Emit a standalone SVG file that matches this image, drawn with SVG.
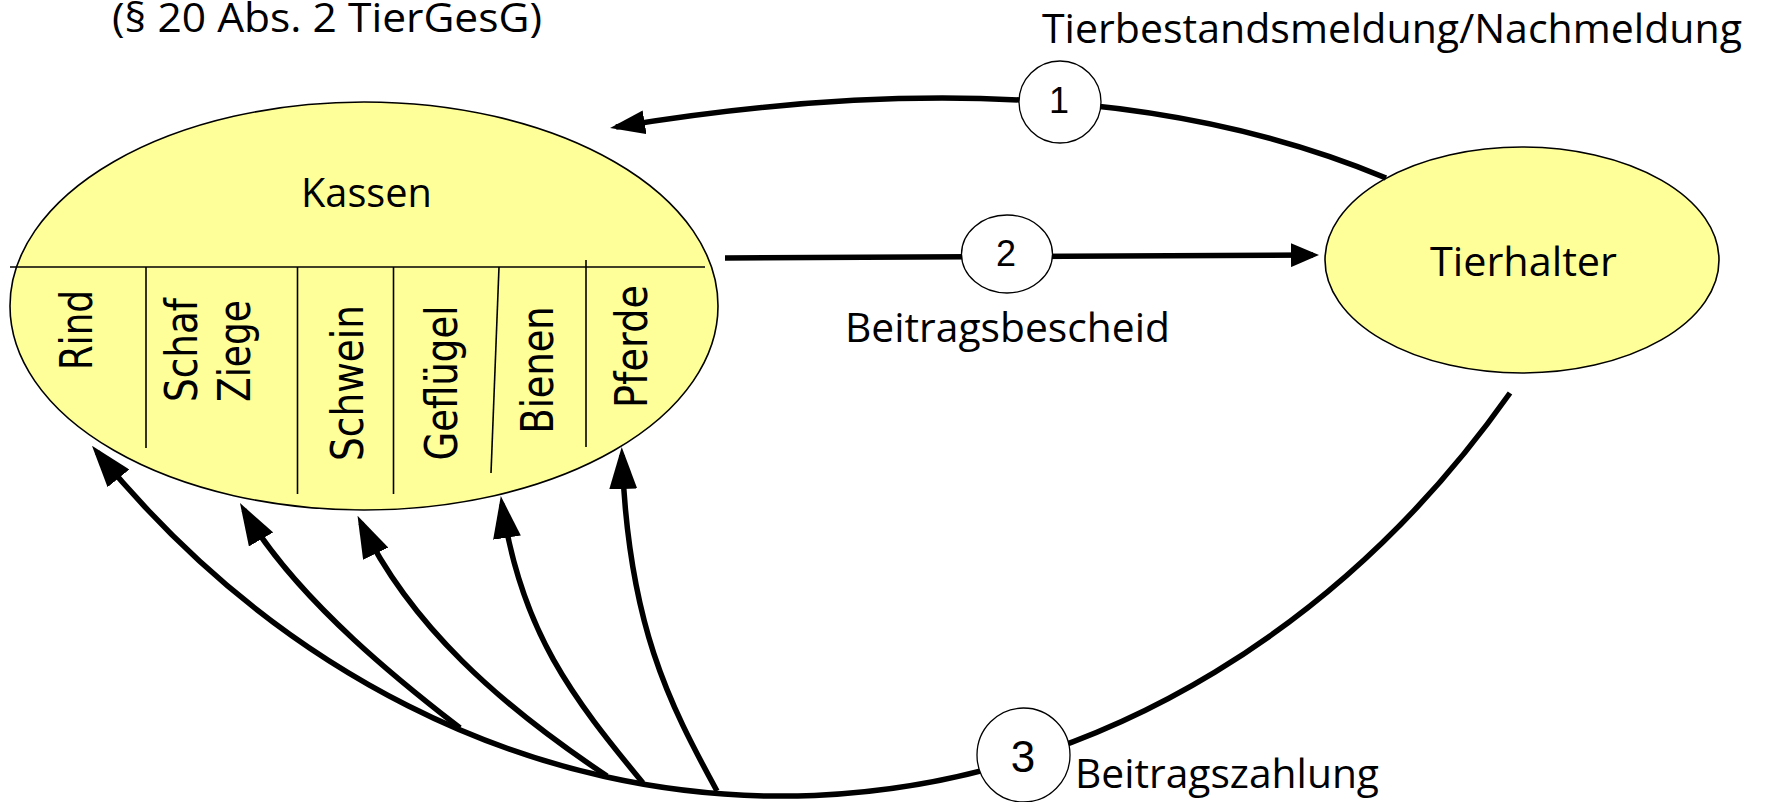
<svg xmlns="http://www.w3.org/2000/svg" width="1773" height="802" viewBox="0 0 1773 802">
<defs>
<style>
.node{fill:#ffff99;stroke:#000;stroke-width:1.6}
.num{fill:#fff;stroke:#000;stroke-width:1.3}
.div{stroke:#000;stroke-width:1.6;fill:none}
.conn{fill:none;stroke:#000;stroke-width:5.5}
.lbl{font-family:"Open Sans","Liberation Sans",sans-serif;font-size:40px;fill:#000}
.vl{font-family:"DejaVu Sans",Verdana,sans-serif;font-size:44px;fill:#000;text-anchor:middle}
.n{font-family:"Liberation Sans",Arial,sans-serif;fill:#000;text-anchor:middle}
</style>
<marker id="ah" markerUnits="userSpaceOnUse" markerWidth="42" markerHeight="28" viewBox="0 0 42 28" refX="34" refY="14" orient="auto"><path d="M0,0 L42,14 L0,28 Z" fill="#000"/></marker>
<marker id="arr1" markerUnits="userSpaceOnUse" markerWidth="35" markerHeight="24" viewBox="0 0 35 24" refX="29" refY="12" orient="auto"><path d="M0,0 L35,12 L0,24 Z" fill="#000"/></marker>
<marker id="arr2" markerUnits="userSpaceOnUse" markerWidth="28" markerHeight="24" viewBox="0 0 28 24" refX="22" refY="12" orient="auto"><path d="M0,0 L28,12 L0,24 Z" fill="#000"/></marker>
</defs>
<rect width="1773" height="802" fill="#fff"/>

<text class="lbl" x="112" y="32" font-size="36" textLength="430" lengthAdjust="spacingAndGlyphs">(§ 20 Abs. 2 TierGesG)</text>
<text class="lbl" x="1042" y="43" textLength="700" lengthAdjust="spacingAndGlyphs">Tierbestandsmeldung/Nachmeldung</text>

<g id="kassen">
<ellipse class="node" cx="364" cy="306" rx="354" ry="204"/>
<text class="lbl" x="301" y="207" textLength="131" lengthAdjust="spacingAndGlyphs">Kassen</text>
<line class="div" x1="10" y1="267" x2="705" y2="267"/>
<line class="div" x1="146" y1="267" x2="146" y2="448"/>
<line class="div" x1="297.5" y1="267" x2="297.5" y2="494"/>
<line class="div" x1="393.5" y1="267" x2="393.5" y2="494"/>
<line class="div" x1="499" y1="267" x2="491" y2="473"/>
<line class="div" x1="586" y1="260" x2="586" y2="447"/>
<text class="vl" transform="translate(92,330) rotate(-90)" textLength="80" lengthAdjust="spacingAndGlyphs">Rind</text>
<text class="vl" transform="translate(197,350) rotate(-90)" textLength="104" lengthAdjust="spacingAndGlyphs">Schaf</text>
<text class="vl" transform="translate(250,351) rotate(-90)" textLength="102" lengthAdjust="spacingAndGlyphs">Ziege</text>
<text class="vl" transform="translate(363,383) rotate(-90)" textLength="156" lengthAdjust="spacingAndGlyphs">Schwein</text>
<text class="vl" transform="translate(457,383) rotate(-90)" textLength="155" lengthAdjust="spacingAndGlyphs">Geflügel</text>
<text class="vl" transform="translate(553,370) rotate(-90)" textLength="127" lengthAdjust="spacingAndGlyphs">Bienen</text>
<text class="vl" transform="translate(647,346.5) rotate(-90)" textLength="123" lengthAdjust="spacingAndGlyphs">Pferde</text>
</g>

<g id="tierhalter">
<ellipse class="node" cx="1522" cy="260" rx="197" ry="113"/>
<text class="lbl" x="1430" y="276" textLength="187" lengthAdjust="spacingAndGlyphs">Tierhalter</text>
</g>

<g id="connectors">
<path class="conn" d="M1386,178 Q1080,50 616,127" marker-end="url(#arr1)"/>
<path class="conn" d="M725,258 L1313,255" marker-end="url(#arr2)"/>
<path class="conn" d="M1510,393 A950,1124 0 0 1 97,452" marker-end="url(#ah)"/>
<path class="conn" d="M460,728 C420,697 299,605 244,510" marker-end="url(#ah)"/>
<path class="conn" d="M607,776 C500,705 410,625 361,523" marker-end="url(#ah)"/>
<path class="conn" d="M643,783 C573,698 521,632 502,504" marker-end="url(#ah)"/>
<path class="conn" d="M717,791 C669,703 628,624 622,455" marker-end="url(#ah)"/>
</g>

<g id="step1">
<ellipse class="num" cx="1060" cy="102" rx="41" ry="41"/>
<text class="n" x="1059" y="113" font-size="36">1</text>
</g>
<g id="step2">
<ellipse class="num" cx="1007" cy="254" rx="45.5" ry="39"/>
<text class="n" x="1006" y="266" font-size="36">2</text>
<text class="lbl" x="845" y="342" textLength="325" lengthAdjust="spacingAndGlyphs">Beitragsbescheid</text>
</g>
<g id="step3">
<ellipse class="num" cx="1023.5" cy="755" rx="46.5" ry="47"/>
<text class="n" x="1023" y="772" font-size="44">3</text>
<text class="lbl" x="1075" y="788" textLength="304" lengthAdjust="spacingAndGlyphs">Beitragszahlung</text>
</g>
</svg>
